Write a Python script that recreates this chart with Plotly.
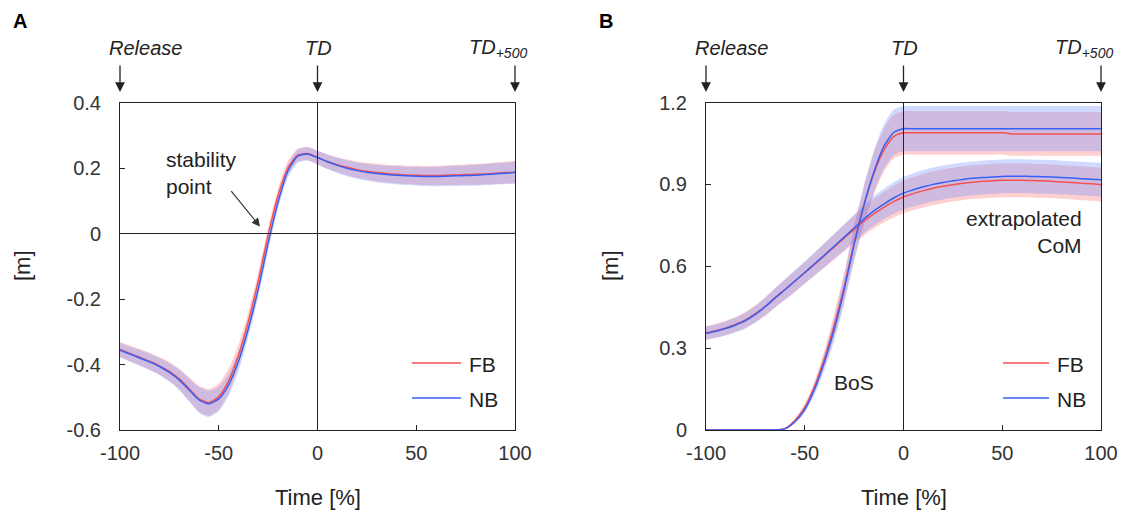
import plotly.graph_objects as go

W, H = 1122, 518

# ---- time axis (% of phase, Release = -100, TD = 0, TD+500 = 100) ----
time_pct = [-100, -95, -90, -85, -80, -75, -70, -65, -60, -55, -50, -45, -40,
            -35, -30, -25, -20, -15, -10, -5, 0, 5, 10, 15, 20, 25, 30, 35,
            40, 45, 50, 55, 60, 65, 70, 75, 80, 85, 90, 95, 100]

# ---- Panel A: margin of stability [m] ----
mos_fb = [-0.354, -0.366, -0.378, -0.390, -0.404, -0.421, -0.444, -0.474, -0.505,
          -0.516, -0.498, -0.450, -0.372, -0.268, -0.145, -0.005, 0.115, 0.200,
          0.239, 0.244, 0.232, 0.220, 0.210, 0.202, 0.195, 0.190, 0.186, 0.183,
          0.181, 0.179, 0.178, 0.177, 0.177, 0.178, 0.179, 0.180, 0.181, 0.182,
          0.184, 0.186, 0.187]
mos_nb = [-0.356, -0.368, -0.380, -0.392, -0.406, -0.424, -0.447, -0.478, -0.508,
          -0.520, -0.505, -0.462, -0.390, -0.290, -0.170, -0.030, 0.095, 0.190,
          0.236, 0.243, 0.232, 0.219, 0.208, 0.199, 0.192, 0.187, 0.183, 0.180,
          0.178, 0.176, 0.175, 0.174, 0.174, 0.175, 0.176, 0.177, 0.178, 0.180,
          0.182, 0.184, 0.186]
mos_fb_sd = [0.023, 0.024, 0.025, 0.026, 0.027, 0.029, 0.032, 0.036, 0.040, 0.041,
             0.040, 0.037, 0.033, 0.029, 0.026, 0.024, 0.022, 0.021, 0.020, 0.020,
             0.021, 0.022, 0.023, 0.024, 0.025, 0.026, 0.027, 0.027, 0.028, 0.028,
             0.029, 0.029, 0.030, 0.030, 0.031, 0.031, 0.032, 0.032, 0.033, 0.033,
             0.034]
mos_nb_sd = [0.022, 0.023, 0.024, 0.025, 0.026, 0.028, 0.031, 0.035, 0.039, 0.040,
             0.038, 0.034, 0.030, 0.027, 0.024, 0.022, 0.021, 0.020, 0.020, 0.020,
             0.021, 0.022, 0.023, 0.024, 0.025, 0.026, 0.027, 0.027, 0.028, 0.028,
             0.029, 0.029, 0.030, 0.030, 0.031, 0.031, 0.032, 0.032, 0.033, 0.033,
             0.034]

# ---- Panel B: base of support and extrapolated CoM [m] ----
bos_fb = [0, 0, 0, 0, 0, 0, 0, 0, 0.006, 0.035, 0.083, 0.160, 0.262, 0.385,
          0.525, 0.685, 0.825, 0.940, 1.025, 1.075, 1.089, 1.089, 1.089, 1.089,
          1.089, 1.089, 1.089, 1.089, 1.089, 1.089, 1.089, 1.085, 1.085, 1.085,
          1.085, 1.085, 1.085, 1.085, 1.085, 1.085, 1.085]
bos_nb = [0, 0, 0, 0, 0, 0, 0, 0, 0.004, 0.030, 0.075, 0.150, 0.250, 0.370,
          0.515, 0.680, 0.825, 0.945, 1.038, 1.090, 1.104, 1.104, 1.104, 1.104,
          1.104, 1.104, 1.104, 1.104, 1.104, 1.104, 1.104, 1.104, 1.104, 1.104,
          1.104, 1.104, 1.104, 1.104, 1.104, 1.104, 1.104]
bos_fb_sd = [0, 0, 0, 0, 0, 0, 0, 0, 0.002, 0.006, 0.012, 0.020, 0.030, 0.042,
             0.052, 0.062, 0.070, 0.076, 0.079, 0.080, 0.080, 0.080, 0.080, 0.080,
             0.080, 0.080, 0.080, 0.080, 0.080, 0.080, 0.080, 0.080, 0.080, 0.080,
             0.080, 0.080, 0.080, 0.080, 0.080, 0.080, 0.080]
bos_nb_sd = [0, 0, 0, 0, 0, 0, 0, 0, 0.002, 0.006, 0.012, 0.020, 0.030, 0.042,
             0.052, 0.062, 0.070, 0.077, 0.081, 0.083, 0.083, 0.083, 0.083, 0.083,
             0.083, 0.083, 0.083, 0.083, 0.083, 0.083, 0.083, 0.083, 0.083, 0.083,
             0.083, 0.083, 0.083, 0.083, 0.083, 0.083, 0.083]

xcom_fb = [0.356, 0.364, 0.374, 0.387, 0.403, 0.426, 0.453, 0.484, 0.514, 0.545,
           0.576, 0.607, 0.639, 0.671, 0.703, 0.735, 0.765, 0.792, 0.816, 0.837,
           0.854, 0.866, 0.877, 0.886, 0.893, 0.899, 0.904, 0.908, 0.911, 0.913,
           0.915, 0.915, 0.915, 0.914, 0.913, 0.911, 0.909, 0.907, 0.904, 0.902,
           0.899]
xcom_nb = [0.354, 0.362, 0.372, 0.385, 0.401, 0.424, 0.452, 0.484, 0.515, 0.546,
           0.577, 0.609, 0.641, 0.674, 0.707, 0.740, 0.773, 0.803, 0.828, 0.850,
           0.868, 0.880, 0.891, 0.900, 0.907, 0.913, 0.918, 0.922, 0.925, 0.927,
           0.929, 0.930, 0.930, 0.929, 0.928, 0.927, 0.925, 0.923, 0.921, 0.919,
           0.917]
xcom_sd = [0.024, 0.025, 0.026, 0.027, 0.029, 0.031, 0.033, 0.035, 0.037, 0.039,
           0.040, 0.042, 0.044, 0.046, 0.048, 0.050, 0.052, 0.054, 0.056, 0.058,
           0.060, 0.061, 0.062, 0.062, 0.062, 0.062, 0.062, 0.062, 0.062, 0.062,
           0.062, 0.062, 0.062, 0.062, 0.062, 0.062, 0.062, 0.062, 0.062, 0.062,
           0.062]

x_ticks = [-100, -50, 0, 50, 100]
x_labels = ["-100", "-50", "0", "50", "100"]
a_yticks = [-0.6, -0.4, -0.2, 0, 0.2, 0.4]
a_ylabels = ["-0.6", "-0.4", "-0.2", "0", "0.2", "0.4"]
b_yticks = [0, 0.3, 0.6, 0.9, 1.2]
b_ylabels = ["0", "0.3", "0.6", "0.9", "1.2"]

RED = "rgb(245,80,80)"
BLUE = "rgb(55,95,245)"
RED_BAND = "rgba(255,120,120,0.35)"
BLUE_BAND = "rgba(120,150,255,0.35)"
INK = "#222222"
FONT = "Liberation Sans, Arial, sans-serif"

fig = go.Figure()


def add_band(mean, sd, fill, xa, ya):
    lo = [m - s for m, s in zip(mean, sd)]
    hi = [m + s for m, s in zip(mean, sd)]
    fig.add_trace(go.Scatter(x=time_pct, y=lo, mode="lines", xaxis=xa, yaxis=ya,
                             line=dict(width=0, shape="spline", smoothing=0.6),
                             hoverinfo="skip", showlegend=False))
    fig.add_trace(go.Scatter(x=time_pct, y=hi, mode="lines", xaxis=xa, yaxis=ya,
                             line=dict(width=0, shape="spline", smoothing=0.6),
                             fill="tonexty", fillcolor=fill,
                             hoverinfo="skip", showlegend=False))


def add_line(mean, color, name, xa, ya):
    fig.add_trace(go.Scatter(x=time_pct, y=mean, mode="lines", name=name,
                             xaxis=xa, yaxis=ya, showlegend=False,
                             line=dict(color=color, width=1.5, shape="spline",
                                       smoothing=0.6)))


# Panel A
add_band(mos_fb, mos_fb_sd, RED_BAND, "x", "y")
add_band(mos_nb, mos_nb_sd, BLUE_BAND, "x", "y")
add_line(mos_fb, RED, "FB", "x", "y")
add_line(mos_nb, BLUE, "NB", "x", "y")

# Panel B
add_band(xcom_fb, xcom_sd, RED_BAND, "x2", "y2")
add_band(xcom_nb, xcom_sd, BLUE_BAND, "x2", "y2")
add_band(bos_fb, bos_fb_sd, RED_BAND, "x2", "y2")
add_band(bos_nb, bos_nb_sd, BLUE_BAND, "x2", "y2")
add_line(xcom_fb, RED, "FB", "x2", "y2")
add_line(xcom_nb, BLUE, "NB", "x2", "y2")
add_line(bos_fb, RED, "FB", "x2", "y2")
add_line(bos_nb, BLUE, "NB", "x2", "y2")

# plot areas in pixels
A_L, A_R, TOP, BOT = 120, 515, 102.5, 430
B_L, B_R = 706, 1101


def px(x):
    return x / W


def py(y):
    return 1 - y / H


common_ax = dict(showgrid=False, zeroline=False, showline=True, linecolor=INK,
                 linewidth=1, mirror=True, ticks="inside", ticklen=5,
                 tickwidth=1, tickcolor=INK, fixedrange=True, automargin=False,
                 tickfont=dict(family=FONT, size=20, color="#333333"))

fig.update_layout(
    width=W, height=H,
    margin=dict(l=0, r=0, t=0, b=0, pad=0, autoexpand=False),
    paper_bgcolor="white", plot_bgcolor="white", showlegend=False,
    xaxis=dict(domain=[px(A_L), px(A_R)], range=[-100, 100], tickvals=x_ticks,
               ticktext=x_labels, ticklabelstandoff=5, anchor="y", **common_ax),
    yaxis=dict(domain=[py(BOT), py(TOP)], range=[-0.6, 0.4], tickvals=a_yticks,
               ticktext=a_ylabels, ticklabelstandoff=14, anchor="x", **common_ax),
    xaxis2=dict(domain=[px(B_L), px(B_R)], range=[-100, 100], tickvals=x_ticks,
                ticktext=x_labels, ticklabelstandoff=5, anchor="y2", **common_ax),
    yaxis2=dict(domain=[py(BOT), py(TOP)], range=[0, 1.2], tickvals=b_yticks,
                ticktext=b_ylabels, ticklabelstandoff=14, anchor="x2", **common_ax),
)

# reference lines at TD (and zero in panel A)
fig.add_shape(type="line", xref="x", yref="y domain", x0=0, x1=0, y0=0, y1=1,
              line=dict(color=INK, width=1), layer="above")
fig.add_shape(type="line", xref="x domain", yref="y", x0=0, x1=1, y0=0, y1=0,
              line=dict(color=INK, width=1), layer="above")
fig.add_shape(type="line", xref="x2", yref="y2 domain", x0=0, x1=0, y0=0, y1=1,
              line=dict(color=INK, width=1), layer="above")


def label(x, y, text, size=21, xanchor="center", align="center", angle=0,
          color=INK):
    fig.add_annotation(xref="paper", yref="paper", x=px(x), y=py(y), text=text,
                       showarrow=False, xanchor=xanchor, yanchor="middle",
                       align=align, textangle=angle,
                       font=dict(family=FONT, size=size, color=color))


# legends drawn as short line samples with labels
for left, right in ((412, 461), (1003, 1049)):
    for yy, col, lab in ((363, RED, "FB"), (398, BLUE, "NB")):
        fig.add_shape(type="line", xref="paper", yref="paper",
                      x0=px(left), x1=px(right), y0=py(yy), y1=py(yy),
                      line=dict(color=col, width=1.5))
        label(right + 6, yy + 1, lab, xanchor="left")

ital_font = dict(family=FONT, size=20, color=INK)

# event markers above each panel
events = [("Release", -100, 25), ("TD", 0, 1), ("TD<sub>+500</sub>", 100, -17)]
for xa in ("x", "x2"):
    for text, xv, shift in events:
        fig.add_annotation(xref=xa, yref="paper", x=xv, y=py(92), ax=0, ay=-28,
                           text="", showarrow=True, arrowhead=2, arrowsize=1.5,
                           arrowwidth=1.3, arrowcolor=INK)
        fig.add_annotation(xref=xa, yref="paper", x=xv, y=py(48), xshift=shift,
                           text="<i>" + text + "</i>", showarrow=False,
                           xanchor="center", yanchor="middle", font=ital_font)

# panel letters
label(20, 21, "<b>A</b>", size=20, color="black")
label(606, 21, "<b>B</b>", size=20, color="black")

# axis titles
for cx in ((A_L + A_R) / 2, (B_L + B_R) / 2):
    label(cx, 497, "Time [%]", size=22)
for cx in (22, 610):
    label(cx, 266, "[m]", size=22, angle=-90)

# in-plot labels
label(164, 173, "stability<br>point", xanchor="left", align="left")
fig.add_annotation(xref="x", yref="y", x=-29.1, y=0.021, ax=-30, ay=-37,
                   text="", showarrow=True, arrowhead=2, arrowsize=1.4,
                   arrowwidth=1.2, arrowcolor="#333333")
label(1084, 232, "extrapolated<br>CoM", xanchor="right", align="right")
label(854, 382, "BoS")

fig.write_html("out.html", config={"displayModeBar": False})
